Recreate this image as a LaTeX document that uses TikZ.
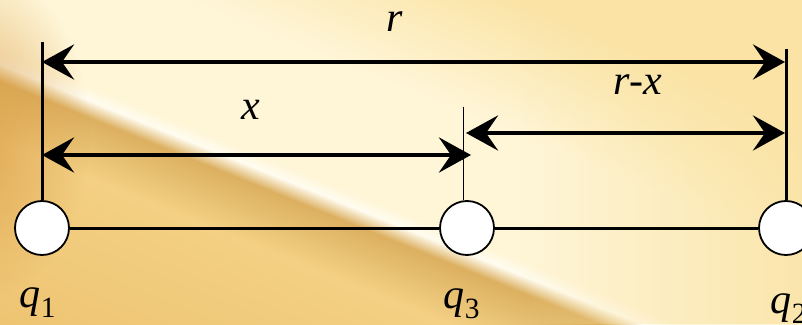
\documentclass[tikz,border=0pt]{standalone}
\usepackage{fontspec}
\setmainfont{Liberation Serif}
\usetikzlibrary{arrows.meta,fadings}
\definecolor{paleyellow}{HTML}{FAE3A4}
\definecolor{creamglow}{HTML}{FFF6D8}
\definecolor{streak}{HTML}{FFFCF0}
\definecolor{bandgold}{HTML}{DCB060}
\definecolor{lightgold}{HTML}{F3D084}
\definecolor{lowgold}{HTML}{EEC472}
\definecolor{darkgold}{HTML}{D99C44}
\pgfdeclareverticalshading{glow}{100bp}{color(0bp)=(lowgold); color(35bp)=(lowgold); color(45.5bp)=(lightgold); color(49bp)=(bandgold); color(50bp)=(streak); color(50.8bp)=(creamglow); color(58bp)=(creamglow); color(66bp)=(paleyellow); color(100bp)=(paleyellow)}
\tikzfading[name=softspot, inner color=transparent!0, outer color=transparent!100]

\begin{document}
\begin{tikzpicture}[x=1pt, y=1pt, >={Stealth[length=32pt, width=35pt, inset=12pt]},
	every node/.style={font=\fontsize{42}{50}\selectfont\itshape},
	charge/.style={circle, draw, fill=white, line width=1.8pt, minimum size=54pt, inner sep=0pt},
	dim/.style={<->, line width=4.5pt},
	guide/.style={line width=3pt}]
	\useasboundingbox (0,0) rectangle (802,324);
	\begin{scope}
		\clip (0,0) rectangle (802,324);
		\begin{scope}[transform canvas={shift={(420,90)}, rotate=-22}]
			\shade[shading=glow] (-700,-400) rectangle (700,400);
		\end{scope}
		\fill[paleyellow, path fading=west, fill opacity=.85] (520,0) rectangle (802,324);
		\fill[darkgold, path fading=softspot, fill opacity=.8] (-30,190) ellipse (120 and 170);
	\end{scope}
	\node[charge] (q1) at (42,96) {};
	\node[charge] (q3) at (467,96) {};
	\node[charge] (q2) at (786,96) {};
	\coordinate (t1) at (42,282);
	\coordinate (t3) at (463,217);
	\coordinate (t2) at (786,275);
	\coordinate (rL) at (42,262);
	\coordinate (rR) at (785,262);
	\coordinate (xL) at (42,169);
	\coordinate (xR) at (471,169);
	\coordinate (dL) at (466,191);
	\coordinate (dR) at (785,191);
	\draw[guide] (q1) -- (q3) -- (q2);
	\draw[guide] (t1) -- (q1);
	\draw[guide] (t2) -- (q2);
	\draw[line width=1pt] (t3) -- (t3 |- q3.north);
	\draw[dim] (rL) -- (rR);
	\draw[dim] (xL) -- (xR);
	\draw[dim] (dL) -- (dR);
	\node[anchor=base] (lr) at (395,292) {r};
	\node[anchor=base] (lx) at (251,204) {x};
	\node[anchor=base] (lrx) at (638,229) {r-x};
	\node[anchor=base] (lq1) at (38,17) {q\textsubscript{\upshape 1}};
	\node[anchor=base] (lq3) at (462,16) {q\textsubscript{\upshape 3}};
	\node[anchor=base] (lq2) at (789,11) {q\textsubscript{\upshape 2}};
\end{tikzpicture}
\end{document}
